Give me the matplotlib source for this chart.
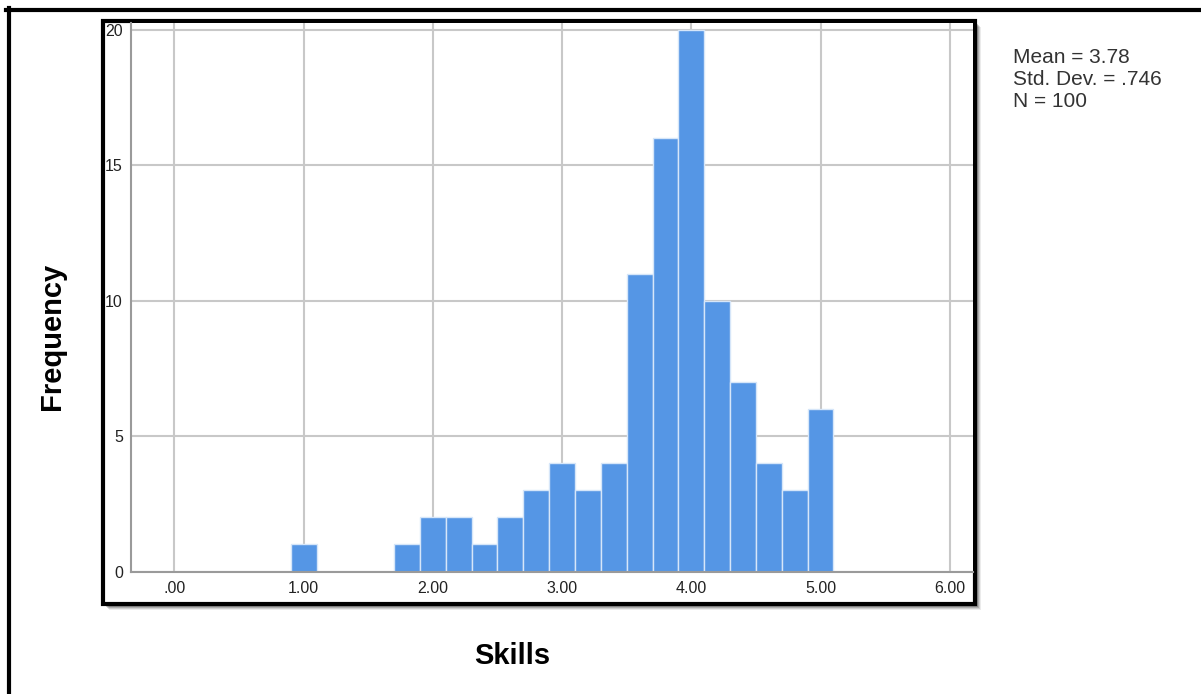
import matplotlib
matplotlib.use("Agg")
import matplotlib.pyplot as plt
from matplotlib.patches import Rectangle
from matplotlib.lines import Line2D

plt.rcParams['font.family'] = ['Liberation Sans', 'DejaVu Sans']

# ---- data ----
bin_left = [0.9, 1.7, 1.9, 2.1, 2.3, 2.5, 2.7, 2.9, 3.1, 3.3, 3.5, 3.7, 3.9, 4.1, 4.3, 4.5, 4.7, 4.9]
bin_width = 0.2
counts = [1, 1, 2, 2, 1, 2, 3, 4, 3, 4, 11, 16, 20, 10, 7, 4, 3, 6]
x_ticks = [0, 1, 2, 3, 4, 5, 6]
x_tick_labels = [".00", "1.00", "2.00", "3.00", "4.00", "5.00", "6.00"]
y_ticks = [0, 5, 10, 15, 20]
stats_lines = ["Mean = 3.78", "Std. Dev. = .746", "N = 100"]

W, H = 1201, 694
fig = plt.figure(figsize=(W / 100, H / 100), dpi=100)

def fx(px):
    return px / W

def fy(py):
    return 1 - py / H

# outer frame lines (top and left)
fig.add_artist(Line2D([fx(6), fx(1201)], [fy(9.5), fy(9.5)], color='black', lw=3, transform=fig.transFigure))
fig.add_artist(Line2D([fx(8.5), fx(8.5)], [fy(8), fy(694)], color='black', lw=3, transform=fig.transFigure))

# inner box shadow
for i, a in zip([6, 5, 4, 3], [0.08, 0.12, 0.16, 0.2]):
    fig.add_artist(Rectangle((fx(103 + i), fy(604 + i)), fx(975 - 103), (604 - 21) / H,
                             transform=fig.transFigure, facecolor='black', alpha=a, edgecolor='none', zorder=0))
# inner box
fig.add_artist(Rectangle((fx(103), fy(604)), fx(975 - 103), (604 - 21) / H,
                         transform=fig.transFigure, facecolor='white', edgecolor='black', lw=3, zorder=1))

ax = fig.add_axes([fx(131.3), fy(571.5), fx(973 - 131.3), (571.5 - 23.3) / H], zorder=2)
ax.set_facecolor('white')
ax.bar(bin_left, counts, width=bin_width, align='edge', color='#5596e5',
       edgecolor='#d6e6f9', linewidth=1.0, zorder=3)

ax.set_xlim(-0.334, 6.18)
ax.set_ylim(0, 20.25)
ax.set_xticks(x_ticks)
ax.set_xticklabels(x_tick_labels)
ax.set_yticks(y_ticks)
ax.grid(True, color='#c8c8c8', lw=1.5, zorder=1)
ax.set_axisbelow(True)
for s in ['top', 'right']:
    ax.spines[s].set_visible(False)
for s in ['left', 'bottom']:
    ax.spines[s].set_color('#9a9a9a')
    ax.spines[s].set_linewidth(1.5)
    ax.spines[s].set_zorder(4)
ax.tick_params(axis='both', length=0, labelsize=11.5, labelcolor='#222222')
ax.tick_params(axis='x', pad=6.5)
ax.tick_params(axis='y', pad=6)

fig.text(fx(52.5), fy(336), "Frequency", rotation=90, ha='center', va='center',
         fontsize=21, fontweight='bold', color='black')
fig.text(fx(512), fy(656), "Skills", ha='center', va='center',
         fontsize=21, fontweight='bold', color='black')
fig.text(fx(1013), fy(48), "\n".join(stats_lines), ha='left', va='top',
         fontsize=15, color='#333333', linespacing=1.2)

fig.savefig("out.png", dpi=100)
